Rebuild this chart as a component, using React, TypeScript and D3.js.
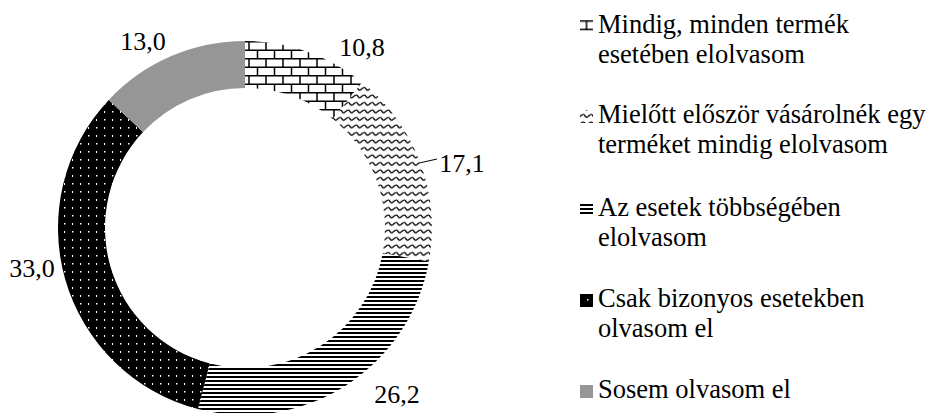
import React, { useRef, useEffect } from 'react';
import * as d3 from 'd3';

const categories = [
  ['Mindig, minden termék', 'esetében elolvasom'],
  ['Mielőtt először vásárolnék egy', 'terméket mindig elolvasom'],
  ['Az esetek többségében', 'elolvasom'],
  ['Csak bizonyos esetekben', 'olvasom el'],
  ['Sosem olvasom el'],
];
const values = [10.8, 17.1, 26.2, 33.0, 13.0];
const valueLabels = ['10,8', '17,1', '26,2', '33,0', '13,0'];
const fills = ['url(#p-brick)', 'url(#p-wave)', 'url(#p-lines)', 'url(#p-dots)', '#969696'];
const legendFills = ['url(#p-brick-icon)', 'url(#p-wave)', 'url(#p-lines)', 'url(#p-dots)', '#969696'];

const App = () => {
  const svgRef = useRef<SVGSVGElement>(null);

  useEffect(() => {
    if (!svgRef.current) return;
    const svg = d3.select(svgRef.current);
    svg.selectAll('*').remove();
    const font = 'Times New Roman';

    // patterns
    const defs = svg.append('defs');
    const makeBrick = (id: string, ox: number, oy: number) => {
      const p = defs.append('pattern').attr('id', id)
        .attr('patternUnits', 'userSpaceOnUse')
        .attr('x', ox).attr('y', oy)
        .attr('width', 17).attr('height', 17);
      p.append('rect').attr('width', 17).attr('height', 17).attr('fill', '#fff');
      p.append('path')
        .attr('d', 'M0,0.75H17M0,9.25H17M4,0V9.25M12.5,9.25V17')
        .attr('stroke', '#000').attr('stroke-width', 1.5).attr('fill', 'none');
    };
    makeBrick('p-brick', 0, 0);
    makeBrick('p-brick-icon', 582.5, 20.25);

    const wave = defs.append('pattern').attr('id', 'p-wave')
      .attr('patternUnits', 'userSpaceOnUse').attr('width', 8).attr('height', 7.5);
    wave.append('rect').attr('width', 8).attr('height', 7.5).attr('fill', '#fff');
    wave.append('path')
      .attr('d', 'M0,2Q2,6 4,4T8,2')
      .attr('stroke', '#000').attr('stroke-width', 1.3).attr('fill', 'none');

    const lines = defs.append('pattern').attr('id', 'p-lines')
      .attr('patternUnits', 'userSpaceOnUse').attr('width', 8).attr('height', 4);
    lines.append('rect').attr('width', 8).attr('height', 4).attr('fill', '#fff');
    lines.append('rect').attr('width', 8).attr('height', 2).attr('fill', '#000');

    const dots = defs.append('pattern').attr('id', 'p-dots')
      .attr('patternUnits', 'userSpaceOnUse').attr('width', 16).attr('height', 16);
    dots.append('rect').attr('width', 16).attr('height', 16).attr('fill', '#000');
    dots.append('rect').attr('x', 3).attr('y', 3).attr('width', 1.5).attr('height', 1.5).attr('fill', '#fff');
    dots.append('rect').attr('x', 11).attr('y', 11).attr('width', 1.5).attr('height', 1.5).attr('fill', '#fff');
    dots.append('rect').attr('x', 11).attr('y', 3).attr('width', 1).attr('height', 2).attr('fill', '#fff');
    dots.append('rect').attr('x', 3).attr('y', 11).attr('width', 1).attr('height', 2).attr('fill', '#fff');

    // donut
    const cx = 245, cy = 228, outerR = 187, innerR = 140;
    const pie = d3.pie<number>().sort(null).value(d => d);
    const arcs = pie(values);
    const arc = d3.arc<d3.PieArcDatum<number>>().innerRadius(innerR).outerRadius(outerR);
    const g = svg.append('g').attr('transform', `translate(${cx},${cy})`);
    g.selectAll('path.slice')
      .data(arcs)
      .enter()
      .append('path')
      .attr('class', 'slice')
      .attr('d', arc)
      .attr('fill', (d, i) => fills[i]);

    // value labels (baseline positions)
    const labelPos: [number, number][] = [[362, 56], [462, 172], [397, 403], [32, 277], [143, 50]];
    svg.selectAll('text.val')
      .data(valueLabels)
      .enter()
      .append('text')
      .attr('class', 'val')
      .attr('x', (d, i) => labelPos[i][0])
      .attr('y', (d, i) => labelPos[i][1])
      .attr('text-anchor', 'middle')
      .attr('font-family', font)
      .attr('font-size', 26)
      .attr('fill', '#000')
      .text(d => d);
    // leader line for 17,1
    const mid = (arcs[1].startAngle + arcs[1].endAngle) / 2;
    const lx = cx + outerR * Math.sin(mid), ly = cy - outerR * Math.cos(mid);
    svg.append('path')
      .attr('d', `M${lx},${ly}L${437},${159}`)
      .attr('stroke', '#000').attr('stroke-width', 1);

    // legend
    const legendBase = [33, 123, 216, 307, 398];
    const lg = svg.append('g');
    categories.forEach((lines, i) => {
      lg.append('rect')
        .attr('x', 580).attr('y', legendBase[i] - 13)
        .attr('width', 13).attr('height', 13)
        .attr('fill', legendFills[i]);
      const t = lg.append('text')
        .attr('font-family', font)
        .attr('font-size', 26.5)
        .attr('fill', '#000');
      lines.forEach((l, j) => {
        t.append('tspan')
          .attr('x', 598)
          .attr('y', legendBase[i] + j * 30)
          .text(l);
      });
    });
  }, []);

  return (
    <svg ref={svgRef} width={930} height={413}
      style={{ position: 'absolute', left: 0, top: 0, background: '#fff' }} />
  );
};

export default App;
